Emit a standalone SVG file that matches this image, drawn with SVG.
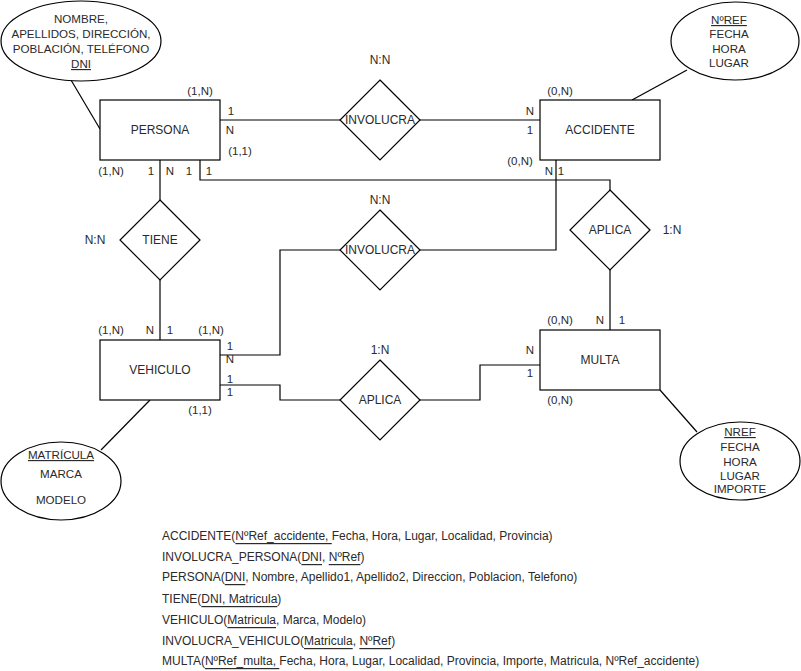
<svg xmlns="http://www.w3.org/2000/svg" width="801" height="671" viewBox="0 0 801 671">
  <style>
    .shape { fill: #ffffff; stroke: #000000; stroke-width: 1.2; }
    .wire { fill: none; stroke: #000000; stroke-width: 1.2; }
    text { font-family: "Liberation Sans", Arial, sans-serif; font-size: 12px; fill: #2a2a2a; }
    .lbl { text-anchor: middle; dominant-baseline: central; }
    .attr { text-anchor: middle; font-size: 11.6px; }
    .card { text-anchor: middle; dominant-baseline: central; font-size: 11.5px; }
    .rel { font-size: 12px; dominant-baseline: central; }
    .u { text-decoration: underline; }
  </style>

  <rect width="801" height="671" fill="#ffffff"/>

  <!-- connectors -->
  <g id="connectors">
    <!-- PERSONA - INVOLUCRA - ACCIDENTE -->
    <line class="wire" x1="220" y1="120" x2="340" y2="120"/>
    <line class="wire" x1="420" y1="120" x2="540" y2="120"/>
    <!-- PERSONA - APLICA (top) -->
    <polyline class="wire" points="200,160 200,180 610,180 610,190"/>
    <!-- APLICA - MULTA -->
    <line class="wire" x1="610" y1="270" x2="610" y2="330"/>
    <!-- PERSONA - TIENE - VEHICULO -->
    <line class="wire" x1="160" y1="160" x2="160" y2="200"/>
    <line class="wire" x1="160" y1="280" x2="160" y2="340"/>
    <!-- VEHICULO - INVOLUCRA - ACCIDENTE -->
    <polyline class="wire" points="220,355 280,355 280,250 340,250"/>
    <polyline class="wire" points="420,250 556,250 556,160"/>
    <!-- VEHICULO - APLICA - MULTA -->
    <polyline class="wire" points="220,385 280,385 280,400 340,400"/>
    <polyline class="wire" points="420,400 480,400 480,365 540,365"/>
    <!-- attribute links -->
    <line class="wire" x1="71" y1="80" x2="100" y2="129"/>
    <line class="wire" x1="687" y1="70" x2="632" y2="100"/>
    <line class="wire" x1="150" y1="400" x2="101" y2="450"/>
    <line class="wire" x1="660" y1="390" x2="697" y2="432"/>
  </g>

  <!-- entities -->
  <g id="persona">
    <rect class="shape" x="100" y="100" width="120" height="60"/>
    <text class="lbl" x="160" y="130">PERSONA</text>
  </g>
  <g id="accidente">
    <rect class="shape" x="540" y="100" width="120" height="60"/>
    <text class="lbl" x="600" y="130">ACCIDENTE</text>
  </g>
  <g id="vehiculo">
    <rect class="shape" x="100" y="340" width="120" height="60"/>
    <text class="lbl" x="160" y="370">VEHICULO</text>
  </g>
  <g id="multa">
    <rect class="shape" x="540" y="330" width="120" height="60"/>
    <text class="lbl" x="600" y="360">MULTA</text>
  </g>

  <!-- relationships -->
  <g id="involucra-persona">
    <polygon class="shape" points="380,80 420,120 380,160 340,120"/>
    <text class="lbl" x="380" y="120">INVOLUCRA</text>
    <text class="lbl" x="380" y="60">N:N</text>
  </g>
  <g id="tiene">
    <polygon class="shape" points="160,200 200,240 160,280 120,240"/>
    <text class="lbl" x="160" y="240">TIENE</text>
    <text class="lbl" x="95" y="240">N:N</text>
  </g>
  <g id="involucra-vehiculo">
    <polygon class="shape" points="380,210 420,250 380,290 340,250"/>
    <text class="lbl" x="380" y="250">INVOLUCRA</text>
    <text class="lbl" x="380" y="200">N:N</text>
  </g>
  <g id="aplica-persona">
    <polygon class="shape" points="610,190 650,230 610,270 570,230"/>
    <text class="lbl" x="610" y="230">APLICA</text>
    <text class="lbl" x="672" y="230">1:N</text>
  </g>
  <g id="aplica-vehiculo">
    <polygon class="shape" points="380,360 420,400 380,440 340,400"/>
    <text class="lbl" x="380" y="400">APLICA</text>
    <text class="lbl" x="380" y="350">1:N</text>
  </g>

  <!-- attributes -->
  <g id="attr-persona">
    <ellipse class="shape" cx="81" cy="41" rx="80" ry="40"/>
    <text class="attr" x="81" y="22.5">NOMBRE,</text>
    <text class="attr" x="81" y="37.5">APELLIDOS, DIRECCIÓN,</text>
    <text class="attr" x="81" y="53">POBLACIÓN, TELÉFONO</text>
    <text class="attr" x="81" y="68"><tspan class="u"> DNI</tspan></text>
  </g>
  <g id="attr-accidente">
    <ellipse class="shape" cx="735" cy="41" rx="64" ry="39"/>
    <text class="attr" x="729" y="24"><tspan class="u">NºREF</tspan></text>
    <text class="attr" x="729" y="38">FECHA</text>
    <text class="attr" x="729" y="53">HORA</text>
    <text class="attr" x="729" y="67">LUGAR</text>
  </g>
  <g id="attr-vehiculo">
    <ellipse class="shape" cx="61" cy="481" rx="60" ry="39"/>
    <text class="attr" x="61" y="459"><tspan class="u">MATRÍCULA</tspan></text>
    <text class="attr" x="61" y="478">MARCA</text>
    <text class="attr" x="61" y="504">MODELO</text>
  </g>
  <g id="attr-multa">
    <ellipse class="shape" cx="740" cy="461" rx="60" ry="39"/>
    <text class="attr" x="740" y="436"><tspan class="u">NREF</tspan></text>
    <text class="attr" x="740" y="451">FECHA</text>
    <text class="attr" x="740" y="466">HORA</text>
    <text class="attr" x="740" y="480">LUGAR</text>
    <text class="attr" x="740" y="493">IMPORTE</text>
  </g>

  <!-- cardinalities -->
  <g id="cardinalities">
    <text class="card" x="200" y="91">(1,N)</text>
    <text class="card" x="231" y="111">1</text>
    <text class="card" x="230" y="130">N</text>
    <text class="card" x="240" y="151">(1,1)</text>
    <text class="card" x="111" y="171">(1,N)</text>
    <text class="card" x="151" y="171">1</text>
    <text class="card" x="170" y="171">N</text>
    <text class="card" x="189" y="171">1</text>
    <text class="card" x="209" y="171">1</text>

    <text class="card" x="560" y="91">(0,N)</text>
    <text class="card" x="530" y="111">N</text>
    <text class="card" x="530" y="130">1</text>
    <text class="card" x="520" y="161">(0,N)</text>
    <text class="card" x="549" y="171">N</text>
    <text class="card" x="561" y="171">1</text>

    <text class="card" x="111" y="330">(1,N)</text>
    <text class="card" x="150" y="330">N</text>
    <text class="card" x="170" y="330">1</text>
    <text class="card" x="211" y="330">(1,N)</text>
    <text class="card" x="230" y="346">1</text>
    <text class="card" x="230" y="359">N</text>
    <text class="card" x="230" y="379">1</text>
    <text class="card" x="230" y="392">1</text>
    <text class="card" x="200" y="410">(1,1)</text>

    <text class="card" x="560" y="320">(0,N)</text>
    <text class="card" x="600" y="320">N</text>
    <text class="card" x="622" y="320">1</text>
    <text class="card" x="530" y="350">N</text>
    <text class="card" x="530" y="373">1</text>
    <text class="card" x="560" y="400">(0,N)</text>
  </g>

  <!-- relational schema -->
  <g id="schema">
    <text class="rel" x="162" y="536">ACCIDENTE(<tspan class="u">NºRef_accidente, </tspan>Fecha, Hora, Lugar, Localidad, Provincia)</text>
    <text class="rel" x="162" y="557">INVOLUCRA_PERSONA(<tspan class="u">DNI</tspan>, <tspan class="u">NºRef</tspan>)</text>
    <text class="rel" x="162" y="577">PERSONA(<tspan class="u">DNI</tspan>, Nombre, Apellido1, Apellido2, Direccion, Poblacion, Telefono)</text>
    <text class="rel" x="162" y="599">TIENE(<tspan class="u">DNI, Matricula</tspan>)</text>
    <text class="rel" x="162" y="620">VEHICULO(<tspan class="u">Matricula</tspan>, Marca, Modelo)</text>
    <text class="rel" x="162" y="641">INVOLUCRA_VEHICULO(<tspan class="u">Matricula</tspan>, <tspan class="u">NºRef</tspan>)</text>
    <text class="rel" x="162" y="661">MULTA(<tspan class="u">NºRef_multa, </tspan>Fecha, Hora, Lugar, Localidad, Provincia, Importe, Matricula, NºRef_accidente)</text>
  </g>
</svg>
